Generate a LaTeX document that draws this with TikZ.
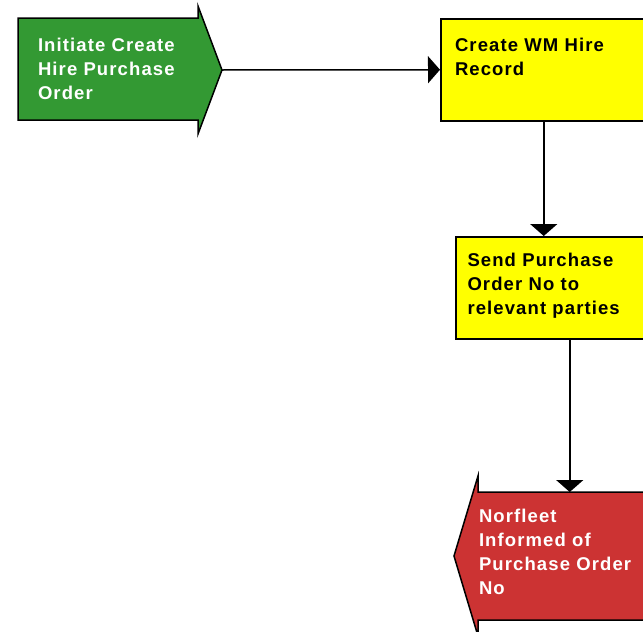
\documentclass[tikz,border=0pt]{standalone}
\usepackage{fontspec}
\setmainfont{Liberation Sans}
\newfontfamily\labelfont{Liberation Sans}[LetterSpace=6]
\usetikzlibrary{arrows.meta}
\definecolor{pgreen}{HTML}{339933}
\definecolor{pyellow}{HTML}{FFFF00}
\definecolor{pred}{HTML}{CC3333}
\tikzset{
  shapeline/.style={draw=black, line width=1.5pt, line join=miter},
  boxnode/.style={shapeline, fill=pyellow, rectangle, inner sep=0pt, anchor=north west},
  hidden/.style={rectangle, inner sep=0pt, outer sep=0pt, anchor=north west, draw=none},
  label/.style={anchor=north west, inner sep=0pt, outer sep=0pt, align=left,
    font=\labelfont\fontsize{18.5}{24}\selectfont\bfseries},
  conn/.style={draw=black, line width=1.5pt, -{Triangle[width=27pt,length=12pt]}},
}
\begin{document}
\begin{tikzpicture}[x=1pt, y=-1pt]
\path[use as bounding box] (0,0) rectangle (643,632);
\clip (0,0) rectangle (643,632);
\fill[white] (0,0) rectangle (643,632);
% green start arrow
\path[shapeline, fill=pgreen] (18,18) -- (198,18) -- (198,6) -- (222,70) -- (198,134) -- (198,120) -- (18,120) -- cycle;
\node[hidden, minimum width=180pt, minimum height=102pt] (green) at (18,18) {};
\coordinate (gtip) at (222,70);
\node[label, text=white] (tgreen) at (38,38) {Initiate Create\\Hire Purchase\\Order};
% yellow boxes
\node[boxnode, minimum width=206pt, minimum height=102pt] (box1) at (440,18) {};
\node[label] (tbox1) at (455,38) {Create WM Hire\\Record};
\node[boxnode, minimum width=228pt, minimum height=102pt] (box2) at (455,236) {};
\node[label] (tbox2) at (467.5,253) {Send Purchase\\Order No to\\relevant parties};
% red end arrow
\path[shapeline, fill=pred] (700,492) -- (478,492) -- (478,476) -- (454,556) -- (478,636) -- (478,620) -- (700,620) -- cycle;
\node[hidden, minimum width=222pt, minimum height=128pt] (red) at (478,492) {};
\node[label, text=white] (tred) at (479,509) {Norfleet\\Informed of\\Purchase Order\\No};
% connectors
\draw[conn] (gtip) -- (box1.west);
\draw[conn] (box1.south) -- (box2.north -| box1.south);
\draw[conn] (box2.south) -- (red.north -| box2.south);
\end{tikzpicture}
\end{document}
